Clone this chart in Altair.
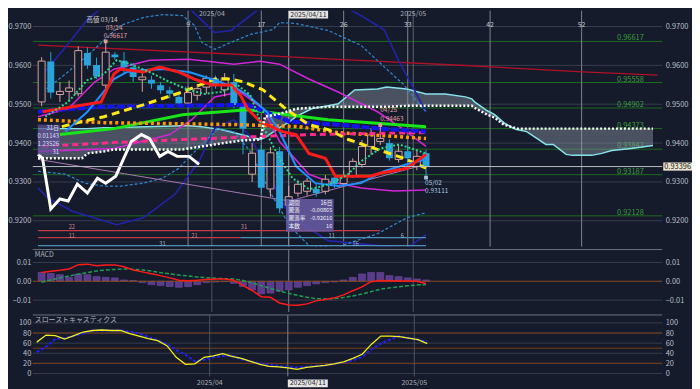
import altair as alt
import pandas as pd

# ====================== values ======================
days = list(range(43))  # trading days 2025/03/05 ... 2025/05/02

opens = [0.9506, 0.9610, 0.9525, 0.9533, 0.9527, 0.9632, 0.9601, 0.9549, 0.9628, 0.9612,
         0.9595, 0.9563, 0.9563, 0.9549, 0.9536, 0.9519, 0.9503, 0.9523, 0.9544, 0.9566,
         0.9537, 0.9557, 0.9498, 0.9320, 0.9383, 0.9282, 0.9379, 0.9240, 0.9271, 0.9276,
         0.9282, 0.9276, 0.9311, 0.9296, 0.9315, 0.9345, 0.9391, 0.9404, 0.9400, 0.9358,
         0.9379, 0.9340, 0.9374]
highs = [0.9621, 0.9634, 0.9557, 0.9561, 0.9649, 0.9646, 0.9620, 0.96617, 0.9634, 0.9634,
         0.9606, 0.9583, 0.9573, 0.9557, 0.9545, 0.9530, 0.9545, 0.9552, 0.9574, 0.9574,
         0.9580, 0.9578, 0.9506, 0.9400, 0.9395, 0.9390, 0.9390, 0.9290, 0.9305, 0.9310,
         0.9295, 0.9318, 0.9322, 0.9330, 0.9361, 0.9408, 0.9438, 0.94463, 0.9410, 0.9395,
         0.9392, 0.9380, 0.9383]
lows = [0.9495, 0.9515, 0.9506, 0.9506, 0.9520, 0.9591, 0.9565, 0.9540, 0.9615, 0.9578,
        0.9557, 0.9532, 0.9540, 0.9527, 0.9515, 0.9495, 0.9490, 0.9510, 0.9527, 0.9540,
        0.9520, 0.9490, 0.9371, 0.9300, 0.9270, 0.9262, 0.9220, 0.92128, 0.9262, 0.9265,
        0.9262, 0.9268, 0.9285, 0.9290, 0.9310, 0.9337, 0.9370, 0.9395, 0.9355, 0.9350,
        0.9352, 0.9330, 0.93111]
closes = [0.9611, 0.9530, 0.9533, 0.9542, 0.9638, 0.9600, 0.9572, 0.9634, 0.9621, 0.9595,
          0.9570, 0.9570, 0.9553, 0.9536, 0.9527, 0.9502, 0.9530, 0.9540, 0.9567, 0.9550,
          0.9568, 0.9498, 0.9437, 0.9374, 0.9285, 0.9375, 0.9232, 0.9262, 0.9294, 0.9302,
          0.9271, 0.9307, 0.9294, 0.9315, 0.9353, 0.9391, 0.9421, 0.9412, 0.9361, 0.9379,
          0.9361, 0.9366, 0.93396]

price_ticks = [0.92, 0.93, 0.94, 0.95, 0.96, 0.97]
fib_levels = [0.96617, 0.95558, 0.94902, 0.94373, 0.93843, 0.93187, 0.92128]
fib_labels = ["0.96617", "0.95558", "0.94902", "0.94373", "0.93843", "0.93187", "0.92128"]
last_price = 0.93396
last_label = "0.93396"

cycle_days = [16, 24, 33, 40, 49, 59]
cycle_labels = ["9", "17", "26", "33", "42", "52"]
month_days = [18.6, 40.6]
month_labels = ["2025/04", "2025/05"]
cursor_day = 27
cursor_label = "2025/04/11"

longma_i = [-0.4, 20.7, 31.3, 46.3, 59.1, 67.3]
longma_p = [0.96523, 0.96293, 0.96166, 0.95997, 0.95834, 0.95750]

tenkan_i = [0.1, 6.5, 7.9, 8.6, 11.1, 12.9, 15.0, 16.7, 18.6, 20.7, 21.7, 22.5, 23.9, 26.3,
            27.8, 29.2, 31.0, 32.1, 35.9, 37.0, 39.9, 42.0]
tenkan_p = [0.94806, 0.95061, 0.95776, 0.95903, 0.95827, 0.95954, 0.95827, 0.95648, 0.95495,
            0.95495, 0.95240, 0.94883, 0.94551, 0.94296, 0.94219, 0.93735, 0.93607, 0.93148,
            0.93148, 0.93225, 0.93352, 0.93709]

kijun_i = [-0.4, 3.3, 6.8, 22.5, 23.9, 27.1, 32.4, 37.0, 42.0]
kijun_p = [0.94806, 0.94883, 0.94934, 0.94985, 0.94857, 0.94551, 0.94474, 0.94372, 0.94296]

fast_i = [2.6, 5.0, 7.9, 9.3, 11.1, 13.2, 16.1, 18.9, 21.0, 22.5, 24.6, 26.0, 27.8, 29.9,
          32.4, 34.9, 37.4, 39.9, 42.0]
fast_p = [0.94296, 0.94806, 0.95648, 0.95827, 0.95878, 0.95903, 0.95827, 0.95622, 0.95444,
          0.95240, 0.94806, 0.94296, 0.93403, 0.92969, 0.92893, 0.92969, 0.93276, 0.93454,
          0.93582]

mid_i = [2.2, 4.4, 6.8, 11.1, 15.4, 18.9, 20.7, 22.1, 24.2, 26.8, 29.2, 31.3, 33.5, 36.7,
         39.6, 42.0]
mid_p = [0.94423, 0.94551, 0.94679, 0.94985, 0.95316, 0.95648, 0.95648, 0.95571, 0.95367,
         0.94857, 0.94474, 0.94347, 0.94092, 0.93837, 0.93607, 0.93352]

green_i = [2.0, 7.9, 15.4, 22.5, 26.0, 31.3, 42.0]
green_p = [0.94219, 0.94372, 0.94730, 0.94857, 0.94755, 0.94602, 0.94423]

orange_i = [-0.4, 6.8, 21.7, 28.1, 32.4, 42.0]
orange_p = [0.94602, 0.94526, 0.94474, 0.94423, 0.94270, 0.94117]

pink_i = [0.1, 7.9, 15.4, 29.2, 42.0]
pink_p = [0.93913, 0.94015, 0.94092, 0.94219, 0.94270]

bb1u_i = [-0.4, 2.9, 5.8, 7.9, 11.8, 16.1, 21.0, 23.9, 26.0, 29.2, 32.4, 36.7, 39.1, 42.0]
bb1u_p = [0.94679, 0.94883, 0.95571, 0.95903, 0.96133, 0.96158, 0.96031, 0.96107, 0.96031,
          0.95648, 0.95316, 0.94806, 0.94423, 0.93913]
bb1l_i = [-0.4, 7.9, 14.0, 16.4, 18.9, 21.7, 24.2, 26.0, 29.2, 31.3, 34.9, 38.5, 42.0]
bb1l_p = [0.93786, 0.93862, 0.94219, 0.94602, 0.95189, 0.95316, 0.94883, 0.94041, 0.93199,
          0.93020, 0.92842, 0.92765, 0.92791]

bb2u_i = [-0.3, 2.6, 5.4, 6.8, 8.6, 11.1, 13.2, 15.4, 16.7, 17.5, 18.9, 20.7, 22.8, 25.3,
          26.0, 27.8, 31.3, 34.9, 37.7, 39.6, 41.3, 42.0]
bb2u_p = [0.95240, 0.95776, 0.96337, 0.96643, 0.97026, 0.97230, 0.97306, 0.97281, 0.97026,
          0.96592, 0.96413, 0.96592, 0.96796, 0.96923, 0.97102, 0.97077, 0.96898, 0.96515,
          0.95903, 0.95495, 0.94985, 0.94806]
bb2l_i = [-0.4, 2.6, 4.7, 6.8, 8.6, 11.1, 13.2, 15.0, 16.4, 18.2, 19.3, 21.0, 22.8, 24.9,
          27.1, 29.2, 32.1, 36.7, 39.9, 42.0]
bb2l_p = [0.93276, 0.93199, 0.92969, 0.92893, 0.92893, 0.92969, 0.93097, 0.93352, 0.93709,
          0.94117, 0.94372, 0.94296, 0.93786, 0.92765, 0.91872, 0.91362, 0.91311, 0.91668,
          0.92077, 0.92204]

bb3u_i = [-0.4, 2.6, 5.0, 7.9, 11.1, 14.3, 17.2, 18.9, 20.7, 22.8, 26.0, 30.3, 34.9, 37.4,
          39.1, 42.0]
bb3u_p = [0.95622, 0.96464, 0.97179, 0.97740, 0.98122, 0.97867, 0.97230, 0.96847, 0.96898,
          0.97281, 0.97867, 0.97867, 0.97281, 0.96923, 0.96082, 0.94806]
bb3l_i = [-0.4, 0.7, 3.3, 8.2, 11.1, 14.6, 17.2, 18.9, 21.0, 22.8, 24.9, 27.1, 31.3, 36.7,
          39.9, 42.0]
bb3l_p = [0.92842, 0.92587, 0.92255, 0.91898, 0.92077, 0.92689, 0.93531, 0.94372, 0.94602,
          0.94168, 0.93148, 0.92128, 0.91490, 0.91362, 0.91286, 0.91643]

dots_i = [0.4, 2.9, 5.0, 6.8, 8.2, 9.7, 11.8, 14.0, 16.1, 17.8, 19.6, 21.4, 22.8, 23.9,
          26.0, 27.4, 29.2, 29.9, 31.7, 33.5, 34.9, 37.0, 39.1, 42.0]
dots_p = [0.94679, 0.95061, 0.95622, 0.95776, 0.96133, 0.96031, 0.95827, 0.95571, 0.95367,
          0.95265, 0.95316, 0.95495, 0.95240, 0.94551, 0.93607, 0.93097, 0.92816, 0.92842,
          0.92969, 0.93199, 0.93531, 0.93862, 0.93964, 0.93735]

lag_i = [-0.4, 0.1, 1.0, 2.0, 2.9, 3.9, 5.0, 6.1, 7.0, 8.1, 9.8, 10.9, 11.8, 12.9, 13.8,
         14.8, 16.1, 17.2]
lag_p = [0.93709, 0.93607, 0.92306, 0.92561, 0.92510, 0.92944, 0.92714, 0.93097, 0.92969,
         0.93148, 0.94041, 0.94219, 0.94117, 0.93658, 0.93786, 0.93658, 0.93658, 0.93454]

trend_i = [-0.4, 21.7, 27.1, 42.0]
trend_p = [0.93582, 0.92714, 0.92510, 0.93454]

cloud_i = [-0.4, 2.2, 4.4, 5.0, 6.8, 7.9, 11.4, 15.4, 16.1, 17.5, 18.9, 19.6, 21.8, 23.9,
           24.4, 26.0, 27.1, 27.8, 29.5, 31.3, 32.4, 34.2, 36.7, 37.7, 39.9, 42.0, 44.1,
           46.3, 47.0, 47.3, 48.7, 49.5, 50.5, 51.6, 51.9, 53.0, 55.1, 55.9, 57.3, 58.0,
           60.1, 61.2, 62.3, 64.4, 66.8]
cloud_a = [0.94372, 0.94372, 0.94372, 0.94372, 0.94398, 0.94398, 0.94423, 0.94449, 0.94449,
           0.94423, 0.94372, 0.94347, 0.94219, 0.94092, 0.94143, 0.94398, 0.94551, 0.94679,
           0.94883, 0.94959, 0.95010, 0.95367, 0.95393, 0.95444, 0.95393, 0.95265, 0.95265,
           0.95189, 0.95138, 0.95061, 0.94832, 0.94730, 0.94526, 0.94372, 0.94347, 0.94296,
           0.93964, 0.93964, 0.93709, 0.93684, 0.93684, 0.93735, 0.93811, 0.93862, 0.93939]
cloud_b = [0.93607, 0.93607, 0.93607, 0.93735, 0.93786, 0.93837, 0.93837, 0.93837, 0.93862,
           0.93913, 0.93964, 0.93990, 0.94066, 0.94092, 0.94679, 0.94755, 0.94832, 0.94883,
           0.94908, 0.94934, 0.94934, 0.94934, 0.94934, 0.94934, 0.94959, 0.94959, 0.94959,
           0.94959, 0.94959, 0.94908, 0.94730, 0.94653, 0.94474, 0.94398, 0.94372, 0.94372,
           0.94372, 0.94372, 0.94372, 0.94372, 0.94372, 0.94372, 0.94372, 0.94372, 0.94372]

# count bars along the bottom of the price panel
cnt_red = [(-0.4, 37.0, 0.91745), (-0.4, 21.7, 0.91566)]
cnt_blue = [(21.7, 42.0, 0.91566), (-0.4, 42.0, 0.91362)]
cnt_upper_txt = ["22", "31"]
cnt_upper_at = [(3.3, 0.91745), (22.1, 0.91745)]
cnt_mid_txt = ["11", "21"]
cnt_mid_at = [(3.3, 0.91566), (16.7, 0.91566)]
cnt_blue_txt = ["11", "6", "31", "16"]
cnt_blue_at = [(31.7, 0.91566), (39.4, 0.91566), (13.2, 0.91362), (34.3, 0.91362)]

tip_keys = ["期間", "騰落", "騰落率", "本数"]
tip_vals = ["16日", "-0.00865", "-0.92616", "16"]
tip2_vals = ["31日", "0.01143", "1.23526", "31"]

macd = [0.0047, 0.0053, 0.0058, 0.0065, 0.0088, 0.0091, 0.0083, 0.0086, 0.0087, 0.0077,
        0.0060, 0.0050, 0.0040, 0.0030, 0.0018, 0.0006, 0.0003, 0.0005, 0.0010, 0.0012,
        0.0012, 0.0005, -0.0022, -0.0049, -0.0082, -0.0085, -0.0115, -0.0126, -0.0127,
        -0.0120, -0.0104, -0.0097, -0.0088, -0.0072, -0.0050, -0.0030, -0.0002, 0.0004,
        0.0003, 0.0002, 0.0001, 0.0000, -0.0012]
signal = [-0.0005, 0.0007, 0.0018, 0.0028, 0.0038, 0.0046, 0.0055, 0.0060, 0.0063, 0.0065,
          0.0064, 0.0060, 0.0054, 0.0046, 0.0039, 0.0033, 0.0028, 0.0023, 0.0019, 0.0016,
          0.0014, 0.0012, 0.0004, -0.0008, -0.0024, -0.0038, -0.0052, -0.0064, -0.0075,
          -0.0085, -0.0092, -0.0094, -0.0092, -0.0086, -0.0078, -0.0068, -0.0055, -0.0042,
          -0.0035, -0.0029, -0.0024, -0.0020, -0.0017]
hist = [0.0047, 0.0042, 0.0035, 0.0021, 0.0039, 0.0035, 0.0025, 0.0021, 0.0018, 0.0007,
        0.0004, -0.0007, -0.0018, -0.0023, -0.0028, -0.0032, -0.0028, -0.0018, -0.0007,
        -0.0004, -0.0002, -0.0011, -0.0028, -0.0046, -0.0067, -0.0063, -0.0053, -0.0046,
        -0.0032, -0.0023, -0.0014, -0.0007, -0.0004, 0.0007, 0.0021, 0.0039, 0.0047,
        0.0047, 0.0030, 0.0025, 0.0018, 0.0012, 0.0007]
macd_ticks = [-0.01, 0.0, 0.01]

stoch_k = [62, 76, 75, 68, 75, 82, 85, 86, 85, 85, 79, 74, 69, 65, 55, 32, 18, 19, 32, 35,
           39, 34, 30, 24, 18, 14, 13, 11, 8, 12, 14, 16, 19, 23, 30, 38, 58, 74, 74, 73,
           70, 67, 59]
stoch_d = [42, 53, 68, 70, 74, 79, 85, 85, 85, 85, 83, 79, 72, 66, 58, 46, 37, 24, 27, 32,
           35, 35, 28, 24, 20, 17, 15, 13, 12, 13, 15, 16, 19, 22, 26, 33, 48, 59, 67, 74,
           70, 67, 62]
stoch_ticks = [0, 20, 40, 60, 80, 100]
stoch_levels = [20, 50, 80]

# ====================== styling / layout ======================
BG = "#151b2b"
GRID = "#353d4f"
TXT = "#b9bec8"
FONT = "Noto Sans CJK JP"
UPC = "#d4a4a2"
DNC = "#2ba3da"

W = 635
H1, H2, H3 = 238, 63, 62
XDOM = [-0.426, 67.27]
D1 = [0.913367, 0.974082]
D2 = [-0.016316, 0.016842]
D3 = [-5.9, 115.7]


def X(f="i"):
    return alt.X(f"{f}:Q", scale=alt.Scale(domain=XDOM, nice=False, zero=False), axis=None)


def Y(f, dom):
    return alt.Y(f"{f}:Q", scale=alt.Scale(domain=dom, nice=False, zero=False), axis=None)


def ln(xi, yv, dom, **kw):
    return alt.Chart(pd.DataFrame({"i": xi, "v": yv})).mark_line(clip=True, **kw).encode(
        x=X(), y=Y("v", dom))


def hrule(vals, dom, **kw):
    return alt.Chart(pd.DataFrame({"v": vals})).mark_rule(**kw).encode(y=Y("v", dom))


def vrule(vals, **kw):
    return alt.Chart(pd.DataFrame({"i": vals})).mark_rule(**kw).encode(x=X())


def segs(items, dom, **kw):
    d = pd.DataFrame({"a": [s[0] for s in items], "b": [s[1] for s in items],
                      "v": [s[2] for s in items]})
    return alt.Chart(d).mark_rule(**kw).encode(x=X("a"), x2="b:Q", y=Y("v", dom))


def label(xi, yv, txt, dom, **kw):
    d = pd.DataFrame({"i": xi, "v": yv, "t": txt})
    return alt.Chart(d).mark_text(font=FONT, **kw).encode(x=X(), y=Y("v", dom), text="t:N")


def marker(xi, yv, dom, color):
    d = pd.DataFrame({"i": xi, "v": yv})
    return alt.Chart(d).mark_square(size=14, color=color, opacity=1).encode(
        x=X(), y=Y("v", dom))


def box(x0, x1, y0, y1, dom, **kw):
    d = pd.DataFrame({"a": [x0], "b": [x1], "c": [y0], "e": [y1]})
    return alt.Chart(d).mark_rect(**kw).encode(x=X("a"), x2="b:Q", y=Y("c", dom), y2="e:Q")


def yaxis(vals, dom, fmt, orient, ext, pad):
    return alt.Chart(pd.DataFrame({"v": vals})).mark_point(opacity=0).encode(
        y=alt.Y("v:Q", scale=alt.Scale(domain=dom, nice=False, zero=False),
                axis=alt.Axis(orient=orient, values=vals, format=fmt, title=None, grid=False,
                              ticks=False, domain=False, labelColor=TXT, labelFont=FONT,
                              labelFontSize=7.5, labelPadding=pad, minExtent=ext,
                              maxExtent=ext)))


def panel(vals, dom, fmt, layers, h):
    return alt.layer(yaxis(vals, dom, fmt, "left", 24, 2), alt.layer(*layers),
                     yaxis(vals, dom, fmt, "right", 30, 3)).resolve_scale(
        y="independent").properties(width=W, height=h)


one = pd.DataFrame({"k": [0]})

# ---------------- price panel ----------------
cdf = pd.DataFrame({"i": days, "o": opens, "h": highs, "l": lows, "c": closes})
cdf["top"] = cdf[["o", "c"]].max(axis=1)
cdf["bot"] = cdf[["o", "c"]].min(axis=1)
cdf["up"] = cdf["c"] >= cdf["o"]
up = alt.Chart(cdf).transform_filter("datum.up")
dn = alt.Chart(cdf).transform_filter("!datum.up")

cloud = alt.Chart(pd.DataFrame({"i": cloud_i, "a": cloud_a, "b": cloud_b}))

hi_i = days[highs.index(max(highs))]
lo_i = days[-1]
pk_i = 37
tip_rows = [0.92462 - k * 0.00196 for k in range(4)]
tip2_rows = [0.94398 - k * 0.00205 for k in range(4)]

main_layers = [
    hrule(price_ticks, D1, color=GRID, strokeWidth=1),
    hrule(fib_levels, D1, color="#1d6a1f", strokeWidth=1),
    label([65.8] * len(fib_levels), fib_levels, fib_labels, D1, align="right",
          baseline="bottom", dy=1, fontSize=7.5, color="#3a9c3a"),
    vrule(month_days, color="#5d6470", strokeWidth=1),
    vrule(cycle_days, color="#7f848e", strokeWidth=1),
    vrule([cursor_day], color="#a3a7ae", strokeWidth=1),
    cloud.mark_area(color="#8b96a6", opacity=0.45, clip=True).encode(
        x=X(), y=Y("a", D1), y2="b:Q"),
    cloud.mark_line(color="#86e3ea", strokeWidth=1.5, clip=True).encode(x=X(), y=Y("a", D1)),
    ln(longma_i, longma_p, D1, color="#b01028", strokeWidth=1.3),
    ln(bb3u_i, bb3u_p, D1, color="#2323aa", strokeWidth=1.6),
    ln(bb3l_i, bb3l_p, D1, color="#2323aa", strokeWidth=1.6),
    ln(bb2u_i, bb2u_p, D1, color="#2f83c9", strokeWidth=1.3, strokeDash=[3, 2]),
    ln(bb2l_i, bb2l_p, D1, color="#2f83c9", strokeWidth=1.3, strokeDash=[3, 2]),
    ln(bb1u_i, bb1u_p, D1, color="#d126d6", strokeWidth=1.6),
    ln(bb1l_i, bb1l_p, D1, color="#d126d6", strokeWidth=1.6),
    ln(trend_i, trend_p, D1, color="#a879b0", strokeWidth=1),
    up.mark_rule(color=UPC, strokeWidth=1).encode(x=X(), y=Y("l", D1), y2="h:Q"),
    dn.mark_rule(color=DNC, strokeWidth=1).encode(x=X(), y=Y("l", D1), y2="h:Q"),
    up.mark_bar(size=7, fill=BG, stroke=UPC, strokeWidth=1).encode(
        x=X(), y=Y("top", D1), y2="bot:Q"),
    dn.mark_bar(size=7, color=DNC).encode(x=X(), y=Y("bot", D1), y2="top:Q"),
    ln(green_i, green_p, D1, color="#19e619", strokeWidth=3),
    ln(orange_i, orange_p, D1, color="#ff9900", strokeWidth=3.5, strokeDash=[3, 3]),
    ln(pink_i, pink_p, D1, color="#ff2a8a", strokeWidth=3, strokeDash=[6, 4]),
    ln(kijun_i, kijun_p, D1, color="#1414f0", strokeWidth=4, strokeDash=[8, 2]),
    ln(mid_i, mid_p, D1, color="#ffe619", strokeWidth=3, strokeDash=[8, 5]),
    ln(fast_i, fast_p, D1, color="#1e90ff", strokeWidth=2),
    ln(tenkan_i, tenkan_p, D1, color="#ff1a1a", strokeWidth=3),
    ln(dots_i, dots_p, D1, color="#2fd58f", strokeWidth=2, strokeDash=[2, 2]),
    cloud.mark_line(color="#ffffff", strokeWidth=2.5, strokeDash=[2, 2], clip=True).encode(
        x=X(), y=Y("b", D1)),
    ln(lag_i, lag_p, D1, color="#ffffff", strokeWidth=3),
    hrule([last_price], D1, color="#b8bcc4", strokeWidth=1),
    segs(cnt_red, D1, color="#c23a4a", strokeWidth=1.2),
    segs(cnt_blue, D1, color="#4f8fb8", strokeWidth=1.2),
    label([p[0] for p in cnt_upper_at], [p[1] for p in cnt_upper_at], cnt_upper_txt, D1,
          baseline="bottom", dy=-0.5, fontSize=5.8, color="#d08a8a"),
    label([p[0] for p in cnt_mid_at], [p[1] for p in cnt_mid_at], cnt_mid_txt, D1,
          baseline="bottom", dy=1.2, fontSize=5.8, color="#d08a8a"),
    label([p[0] for p in cnt_blue_at], [p[1] for p in cnt_blue_at], cnt_blue_txt, D1,
          baseline="bottom", dy=1.2, fontSize=5.8, color="#9fb8cc"),
    # high / low / peak markers and their labels
    marker([hi_i, pk_i], [max(highs), highs[pk_i]], D1, "#e09a9a"),
    marker([lo_i], [lows[lo_i]], D1, "#a8c8e0"),
    label([hi_i - 0.4], [max(highs)], ["高値 03/14"], D1, baseline="bottom", dy=-19,
          fontSize=6.5, color="#d0d0d0"),
    label([hi_i], [max(highs)], ["03/14"], D1, align="left", baseline="bottom", dy=-10.5,
          fontSize=6.5, color="#e0a0a0"),
    label([hi_i - 0.2], [max(highs)], ["0.96617"], D1, align="left", baseline="bottom",
          dy=-2, fontSize=6.5, color="#e0a0a0"),
    label([pk_i], [highs[pk_i]], ["04/25"], D1, align="left", baseline="bottom", dy=-12,
          fontSize=6.5, color="#e0a0a0"),
    label([pk_i], [highs[pk_i]], ["0.94463"], D1, align="left", baseline="bottom", dy=-3.5,
          fontSize=6.5, color="#e0a0a0"),
    label([lo_i - 0.1], [lows[lo_i]], ["05/02"], D1, align="left", baseline="top", dy=2,
          fontSize=6.5, color="#a8c8e0"),
    label([lo_i - 0.1], [lows[lo_i]], ["0.93111"], D1, align="left", baseline="top", dy=11,
          fontSize=6.5, color="#a8c8e0"),
    # measurement boxes
    box(-0.43, 2.0, 0.94474, 0.93709, D1, color="#5e5296", opacity=0.75),
    label([1.9] * 4, tip2_rows, tip2_vals, D1, align="right", baseline="middle",
          fontSize=6, color="#dcdcf2"),
    box(26.7, 31.9, 0.92561, 0.91719, D1, color="#6a5ca6", opacity=0.85),
    label([27.0] * 4, tip_rows, tip_keys, D1, align="left", baseline="middle",
          fontSize=5.6, color="#f2f2f8"),
    label([31.75] * 4, tip_rows, tip_vals, D1, align="right", baseline="middle",
          fontSize=5.6, color="#f2f2f8"),
    # header labels
    alt.Chart(pd.DataFrame({"i": month_days, "t": month_labels})).mark_text(
        font=FONT, fontSize=7, color="#aeb3bc").encode(x=X(), y=alt.value(3.5), text="t:N"),
    alt.Chart(pd.DataFrame({"i": cycle_days, "t": cycle_labels})).mark_text(
        font=FONT, fontSize=7, color="#c8ccd4").encode(x=X(), y=alt.value(14), text="t:N"),
    alt.Chart(pd.DataFrame({"a": [cursor_day], "b": [cursor_day + 4.3]})).mark_rect(
        color="#e4e4e4").encode(x=X("a"), x2="b:Q", y=alt.value(0), y2=alt.value(8)),
    alt.Chart(pd.DataFrame({"i": [cursor_day + 2.15], "t": [cursor_label]})).mark_text(
        font=FONT, fontSize=7, color="#222222").encode(x=X(), y=alt.value(4), text="t:N"),
    # last price tag on the right
    alt.Chart(pd.DataFrame({"c": [last_price + 0.00105], "e": [last_price - 0.00105]})).mark_rect(
        color="#ece6cf").encode(x=alt.value(W + 1), x2=alt.value(W + 30), y=Y("c", D1),
                                y2="e:Q"),
    alt.Chart(pd.DataFrame({"v": [last_price], "t": [last_label]})).mark_text(
        font=FONT, fontSize=7.5, color="#222222").encode(
        x=alt.value(W + 15.5), y=Y("v", D1), text="t:N"),
]
main = panel(price_ticks, D1, ".4f", main_layers, H1)

# ---------------- MACD panel ----------------
sep = alt.Chart(one).mark_rule(color="#6b7280").encode(
    x=alt.value(0), x2=alt.value(W), y=alt.value(0))
macd_layers = [
    hrule([0.01, -0.01], D2, color=GRID),
    vrule(month_days, color="#4c5361"),
    vrule([cursor_day], color="#7e848e"),
    alt.Chart(pd.DataFrame({"i": days, "v": hist})).mark_bar(
        size=7, color="#5b3b8b", stroke="#7650a8", strokeWidth=0.5).encode(
        x=X(), y=Y("v", D2), y2=alt.Y2(datum=0)),
    hrule([0], D2, color="#8a4b1c", strokeWidth=1.2),
    ln(days, signal, D2, color="#1e9e55", strokeWidth=1.5, strokeDash=[4, 2]),
    ln(days, macd, D2, color="#ff1a1a", strokeWidth=1.5),
    alt.Chart(pd.DataFrame({"t": ["MACD"]})).mark_text(
        font=FONT, fontSize=7, color="#aeb3bc", align="left").encode(
        x=alt.value(2), y=alt.value(6), text="t:N"),
    sep,
]
macd_panel = panel(macd_ticks, D2, ".2f", macd_layers, H2)

# ---------------- stochastics panel ----------------
st_layers = [
    hrule(stoch_ticks, D3, color=GRID),
    hrule(stoch_levels, D3, color="#7c3d12"),
    vrule(month_days, color="#4c5361"),
    vrule([cursor_day], color="#7e848e"),
    ln(days, stoch_d, D3, color="#1f1fff", strokeWidth=2, strokeDash=[3, 2]),
    ln(days, stoch_k, D3, color="#f2ef1c", strokeWidth=1.3),
    alt.Chart(pd.DataFrame({"t": ["スローストキャスティクス"]})).mark_text(
        font=FONT, fontSize=7, color="#aeb3bc", align="left").encode(
        x=alt.value(2), y=alt.value(5), text="t:N"),
    sep,
    alt.Chart(pd.DataFrame({"i": month_days, "t": month_labels})).mark_text(
        font=FONT, fontSize=7, color="#aeb3bc").encode(
        x=X(), y=alt.value(H3 + 7), text="t:N"),
    alt.Chart(pd.DataFrame({"a": [cursor_day], "b": [cursor_day + 4.3]})).mark_rect(
        color="#e4e4e4").encode(x=X("a"), x2="b:Q", y=alt.value(H3 + 3),
                                y2=alt.value(H3 + 11)),
    alt.Chart(pd.DataFrame({"i": [cursor_day + 2.15], "t": [cursor_label]})).mark_text(
        font=FONT, fontSize=7, color="#222222").encode(
        x=X(), y=alt.value(H3 + 7), text="t:N"),
]
stoch_panel = panel(stoch_ticks, D3, "d", st_layers, H3)

chart = alt.vconcat(main, macd_panel, stoch_panel, spacing=1).resolve_scale(
    y="independent").properties(padding=0).configure(background=BG).configure_view(stroke=None)

chart.save("out.html", embed_options={"renderer": "svg", "actions": False})
